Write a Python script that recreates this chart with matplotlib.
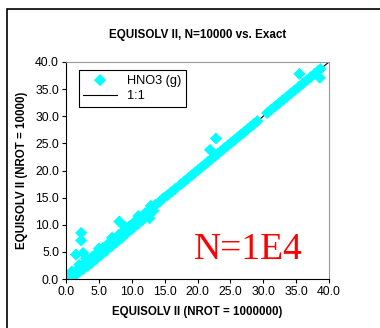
import matplotlib
matplotlib.use('Agg')
import matplotlib.pyplot as plt
from matplotlib.patches import Rectangle

# Data (x = NROT 1000000, y = NROT 10000)
band_x = [0.0, 0.2, 0.4, 0.6, 0.8, 1.0, 1.3, 1.6, 1.9, 2.2, 2.5, 2.8, 3.1, 3.4, 3.7,
          4.0, 4.4, 4.8, 5.2, 5.6, 6.0, 6.4, 6.8, 7.2, 7.6, 8.0, 8.4, 8.8, 9.2, 9.6,
          10.0, 10.4, 10.8, 11.2, 11.6, 12.0, 12.4, 12.8, 13.2, 13.6, 14.3, 14.8,
          15.4, 16.0, 16.6, 17.5, 18.0, 18.6, 19.1, 19.6, 20.1, 20.6, 21.1, 21.6,
          22.1, 22.6, 23.1, 23.6, 24.1, 24.6, 25.1, 25.6, 26.1, 26.6, 27.1, 27.6,
          28.1, 28.6, 29.1, 30.6, 31.2, 31.8, 32.4, 33.0, 33.6, 34.2, 34.8, 35.4,
          36.0, 36.6, 37.2, 37.8, 38.3, 38.7]
band_y = [0.0, 0.1, 0.3, 0.7, 0.6, 1.1, 1.0, 1.5, 1.6, 2.1, 2.3, 2.9, 2.8, 3.4, 3.5,
          4.1, 4.2, 4.9, 5.0, 5.7, 5.8, 6.5, 6.6, 7.3, 7.3, 8.1, 8.2, 8.9, 9.0, 9.7,
          9.8, 10.5, 10.6, 11.3, 11.4, 12.1, 12.2, 12.9, 13.1, 13.7, 14.3, 14.9,
          15.4, 16.0, 16.6, 17.5, 18.0, 18.6, 19.1, 19.6, 20.1, 20.6, 21.1, 21.6,
          22.1, 22.6, 23.1, 23.6, 24.1, 24.6, 25.1, 25.6, 26.1, 26.6, 27.1, 27.6,
          28.1, 28.6, 29.1, 30.6, 31.2, 31.8, 32.4, 33.0, 33.6, 34.2, 34.8, 35.4,
          36.0, 36.6, 37.2, 37.8, 38.3, 38.7]
# spread of the lower part of the band
spread_x = [0.5, 1.2, 1.8, 2.6, 3.3, 3.9, 4.6, 5.3, 6.1, 6.9, 7.7, 8.5, 9.3, 10.1,
            10.9, 11.7, 12.5, 13.3, 0.9, 2.0, 3.0, 5.0, 7.0, 9.0, 11.0, 12.9]
spread_y = [0.0, 0.6, 1.1, 1.8, 2.4, 3.0, 3.7, 4.4, 5.2, 6.0, 6.8, 7.6, 8.5, 9.3,
            10.1, 10.9, 11.7, 12.6, 1.4, 2.6, 3.8, 5.6, 7.6, 9.6, 11.6, 13.5]
out_x = [2.3, 2.3, 1.5, 2.6, 4.4, 8.1, 8.6, 12.7, 22.8, 21.9, 35.5, 38.6]
out_y = [8.5, 7.1, 4.5, 4.8, 3.6, 10.6, 7.9, 11.2, 25.9, 23.8, 37.8, 37.1]
ticks = [0, 5, 10, 15, 20, 25, 30, 35, 40]

plt.rcParams['font.family'] = ['Liberation Sans', 'DejaVu Sans']

fig = plt.figure(figsize=(3.8, 3.28), dpi=100)
ax = fig.add_axes([66 / 380, 1 - 279 / 328, 263 / 380, 217 / 328])

cyan = '#00FFFF'
ax.scatter(band_x + spread_x + out_x, band_y + spread_y + out_y, marker='D', s=38,
           color=cyan, edgecolors='none', label='HNO3 (g)', zorder=2)
ax.plot([0, 40], [0, 40], color='black', lw=0.8, label='1:1', zorder=1)

ax.set_xlim(0, 40)
ax.set_ylim(0, 40)
ax.set_xticks(ticks)
ax.set_yticks(ticks)
ax.set_xticklabels(['%.1f' % t for t in ticks], fontsize=8.8)
ax.set_yticklabels(['%.1f' % t for t in ticks], fontsize=8.8)
ax.tick_params(direction='out', length=3, width=0.8, pad=2)
for s in ['top', 'right']:
    ax.spines[s].set_color('#999999')
for s in ['left', 'bottom']:
    ax.spines[s].set_color('black')

ax.set_title('EQUISOLV II, N=10000 vs. Exact', fontsize=8.4, fontweight='bold', pad=17)
ax.set_xlabel('EQUISOLV II (NROT = 1000000)', fontsize=8.3, fontweight='bold', labelpad=6)
ax.set_ylabel('EQUISOLV II (NROT = 10000)', fontsize=8.3, fontweight='bold', labelpad=5)

leg = ax.legend(loc='upper left', bbox_to_anchor=(0.049, 0.963), fontsize=9.2,
                frameon=True, fancybox=False, edgecolor='black', framealpha=1,
                borderpad=0.35, handlelength=2.6, labelspacing=0.3, scatterpoints=1,
                borderaxespad=0)
leg.get_frame().set_linewidth(0.8)

ax.text(0.901, 0.09, 'N=1E4', transform=ax.transAxes, ha='right', va='baseline',
        fontsize=27, color='red', family='Liberation Serif')

# outer chart border
fig.patches.append(Rectangle((7 / 380, -0.1), 1.2, 1 - 9 / 328 + 0.1,
                             transform=fig.transFigure, fill=False,
                             edgecolor='black', lw=1.2))

fig.savefig('out.png', dpi=100)
